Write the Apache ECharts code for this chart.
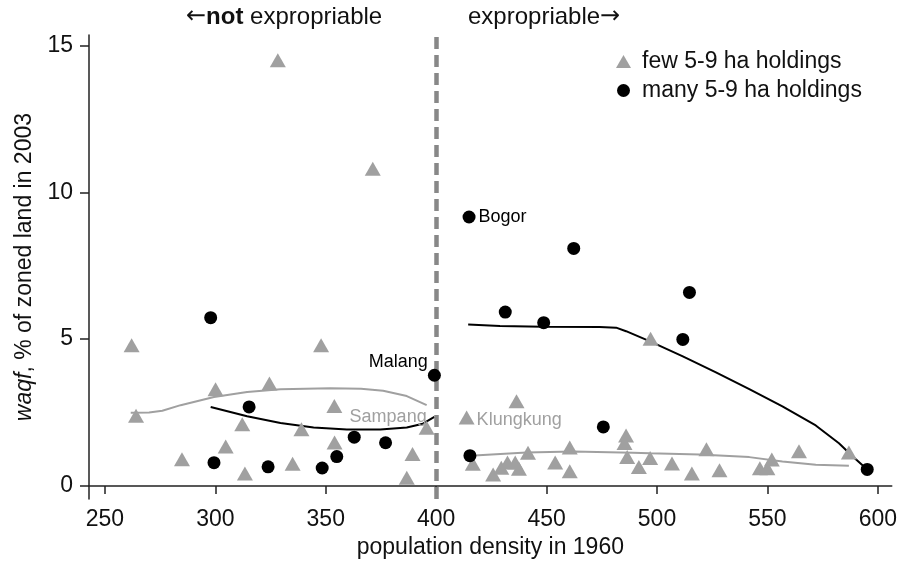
<!DOCTYPE html>
<html>
<head>
<meta charset="utf-8">
<script src="https://cdn.jsdelivr.net/npm/echarts@6.0.0/dist/echarts.min.js"></script>
<style>
html, body { margin: 0; padding: 0; background: #fff; }
#main { width: 900px; height: 564px; }
</style>
</head>
<body>
<div id="main"></div>
<script>
const xTicks = [250, 300, 350, 400, 450, 500, 550, 600];
const yTicks = [0, 5, 10, 15];
const cutoff = 400;

// few 5-9 ha holdings (triangles)
const fewLeft = [[262.1,4.79],[264.1,2.39],[284.9,0.91],[300.1,3.29],[304.7,1.34],[312.2,2.10],[313.4,0.42],
  [324.5,3.49],[328.3,14.50],[335.0,0.75],[339.0,1.93],[347.9,4.79],[353.9,2.72],[354.0,1.48],
  [371.3,10.80],[386.7,0.28],[389.3,1.09]];
const fewRight = [[416.6,0.75],[425.8,0.39],[429.5,0.62],[432.3,0.80],[435.8,0.80],[437.5,0.58],[436.4,2.88],
  [441.6,1.13],[453.9,0.80],[460.5,1.31],[460.5,0.50],[485.3,1.46],[486.0,1.72],[486.5,0.98],[491.8,0.64],
  [496.9,0.95],[497.1,5.01],[506.8,0.76],[515.8,0.42],[522.4,1.25],[528.3,0.53],[546.6,0.60],[550.0,0.60],
  [552.0,0.90],[564.3,1.18],[586.9,1.14]];
// many 5-9 ha holdings (circles)
const manyLeft = [[297.9,5.73],[299.4,0.79],[315.3,2.69],[323.9,0.65],[348.4,0.61],[355.0,1.00],[362.9,1.66],[377.1,1.47]];
const manyRight = [[415.3,1.03],[431.3,5.92],[448.7,5.56],[462.3,8.09],[475.7,2.01],[511.7,4.99],[514.7,6.59],[595.2,0.56]];

// named districts
const sampang = [395.7, 1.98];
const klungkung = [413.8, 2.33];
const malang = [399.2, 3.77];
const bogor = [414.9, 9.16];

// lowess fits
const fewFitLeft = [[261.7,2.49],[270.0,2.50],[276.0,2.56],[284.3,2.75],[299.4,3.03],[314.4,3.20],[329.5,3.29],
  [352.1,3.33],[366.0,3.31],[376.0,3.24],[386.7,3.06],[395.7,2.75]];
const fewFitRight = [[415.3,1.03],[440.9,1.14],[462.0,1.17],[489.1,1.13],[496.6,1.11],[519.2,1.07],[541.8,0.98],
  [556.8,0.83],[571.9,0.72],[586.9,0.69]];
const manyFitLeft = [[297.9,2.69],[314.4,2.37],[329.5,2.14],[344.5,1.99],[359.6,1.92],[374.7,1.92],[386.7,1.99],
  [394.0,2.12],[399.2,2.35]];
const manyFitRight = [[414.5,5.50],[428.9,5.45],[448.4,5.42],[474.0,5.41],[481.5,5.39],[486.0,5.27],[496.6,4.93],
  [511.7,4.41],[526.7,3.87],[541.8,3.30],[556.8,2.71],[571.9,2.06],[582.4,1.45],[588.4,1.02],[595.2,0.56]];

const FONT = "'Liberation Sans', Arial, Helvetica, sans-serif";
const GRAY = '#a0a0a0';

function tag(pt, name, pos, color, distance, offset) {
  return {
    value: pt,
    label: { show: true, formatter: name, position: pos, distance: distance, offset: offset,
      color: color, fontSize: 18, fontFamily: FONT }
  };
}

function fit(name, data, color) {
  return {
    name: name, type: 'line', data: data, symbol: 'none', smooth: false,
    lineStyle: { color: color, width: 2 }, silent: true, z: 3
  };
}

const chart = echarts.init(document.getElementById('main'));
chart.setOption({
  animation: false,
  textStyle: { fontFamily: FONT },
  title: [
    {
      text: '{r|\u2190}{b|not}{a| expropriable}', left: 186, top: 5, padding: 0,
      textStyle: { fontWeight: 'normal', rich: {
        r: { fontSize: 24, fontFamily: "'DejaVu Sans'", color: '#111', fontWeight: 'normal' },
        a: { fontSize: 24, fontFamily: FONT, color: '#111', fontWeight: 'normal' },
        b: { fontSize: 24, fontFamily: FONT, color: '#111', fontWeight: 'bold' }
      } }
    },
    {
      text: '{a|expropriable}{r|\u2192}', left: 468, top: 5, padding: 0,
      textStyle: { fontWeight: 'normal', rich: {
        r: { fontSize: 24, fontFamily: "'DejaVu Sans'", color: '#111', fontWeight: 'normal' },
        a: { fontSize: 24, fontFamily: FONT, color: '#111', fontWeight: 'normal' }
      } }
    }
  ],
  legend: {
    orient: 'vertical', left: 616, top: 50, padding: 0,
    itemWidth: 15, itemHeight: 13, itemGap: 6,
    data: ['few 5-9 ha holdings', 'many 5-9 ha holdings'],
    textStyle: { fontSize: 23, lineHeight: 23, color: '#111', fontFamily: FONT, padding: [0, 0, 0, 6] }
  },
  grid: { left: 89, right: 7, top: 35, bottom: 59 },
  xAxis: {
    type: 'value', min: 242.8, max: 606.3,
    name: 'population density in 1960', nameLocation: 'middle', nameGap: 32,
    nameTextStyle: { fontSize: 23, color: '#111', fontFamily: FONT },
    axisLine: { lineStyle: { color: '#222', width: 1.5 } },
    axisTick: { show: true, length: 8, customValues: xTicks, lineStyle: { color: '#222', width: 1.5 } },
    axisLabel: { customValues: xTicks, fontSize: 23, color: '#111', margin: 9 },
    splitLine: { show: false }
  },
  yAxis: {
    type: 'value', min: -0.45, max: 15.36,
    name: '{i|waqf}{n|, % of zoned land in 2003}', nameLocation: 'middle', nameGap: 52,
    nameTextStyle: { rich: {
      i: { fontSize: 23, fontStyle: 'italic', color: '#111', fontFamily: FONT },
      n: { fontSize: 23, color: '#111', fontFamily: FONT }
    } },
    axisLine: { show: true, lineStyle: { color: '#222', width: 1.5 } },
    axisTick: { show: true, length: 9, customValues: yTicks, lineStyle: { color: '#222', width: 1.5 } },
    axisLabel: { customValues: yTicks, fontSize: 23, color: '#111', margin: 16 },
    splitLine: { show: false }
  },
  series: [
    {
      name: 'cutoff', type: 'line', data: [], silent: true, z: 1,
      markLine: {
        silent: true, symbol: 'none', label: { show: false },
        lineStyle: { color: '#888', width: 4.5, type: [12, 6] },
        data: [{ xAxis: cutoff }]
      }
    },
    fit('few fit left', fewFitLeft, GRAY),
    fit('few fit right', fewFitRight, GRAY),
    fit('many fit left', manyFitLeft, '#000'),
    fit('many fit right', manyFitRight, '#000'),
    {
      name: 'few 5-9 ha holdings', type: 'scatter', symbol: 'triangle', symbolSize: [16, 14], z: 4,
      itemStyle: { color: GRAY, opacity: 1 },
      data: fewLeft.concat(fewRight, [
        tag(sampang, 'Sampang', 'left', GRAY, 0, [8, -11]),
        tag(klungkung, 'Klungkung', 'right', GRAY, 2, [0, 3])
      ])
    },
    {
      name: 'many 5-9 ha holdings', type: 'scatter', symbol: 'circle', symbolSize: 13, z: 5,
      itemStyle: { color: '#000', opacity: 1 },
      data: manyLeft.concat(manyRight, [
        tag(malang, 'Malang', 'left', '#000', 0, [0, -13]),
        tag(bogor, 'Bogor', 'right', '#000', 3, [0, 0])
      ])
    }
  ]
});
</script>
</body>
</html>
